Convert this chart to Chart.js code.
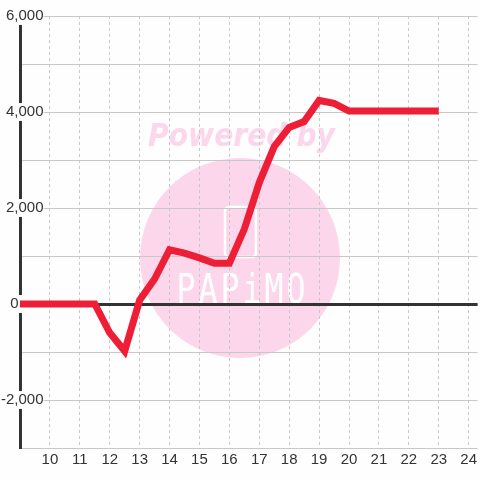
<!DOCTYPE html>
<html>
<head>
<meta charset="utf-8">
<script src="https://cdn.jsdelivr.net/npm/chart.js@4/dist/chart.umd.min.js"></script>
<style>
  body { margin: 0; background: #fdfefd; }
  #wrap { width: 480px; height: 480px; }
</style>
</head>
<body>
<div id="wrap"><canvas id="profitChart"></canvas></div>
<script>
// hour of day (half-hour steps) and the value at each step
const hours = [9, 9.5, 10, 10.5, 11, 11.5, 12, 12.5, 13, 13.5, 14, 14.5, 15, 15.5, 16, 16.5,
               17, 17.5, 18, 18.5, 19, 19.5, 20, 20.5, 21, 21.5, 22, 22.5, 23];
const values = [0, 0, 0, 0, 0, 0, -600, -980, 80, 520, 1130, 1060, 960, 850, 850, 1560,
                2530, 3280, 3680, 3800, 4240, 4180, 4020, 4020, 4020, 4020, 4020, 4020, 4020];
const xRange = [9, 24.3];
const yRange = [-3000, 6000];

// "Powered by" watermark drawn under the grid
const watermark = {
    id: 'watermark',
    beforeDraw: function(chart) {
        const c = chart.ctx;
        c.save();
        c.fillStyle = '#fcd7ec';
        c.beginPath();
        c.arc(240, 258, 100, 0, Math.PI * 2);
        c.fill();

        c.font = 'italic bold 32px "DejaVu Sans"';
        c.textBaseline = 'alphabetic';
        c.textAlign = 'left';
        c.fillText('Powered by', 148, 146, 187);

        c.strokeStyle = '#ffffff';
        c.lineWidth = 2.5;
        c.beginPath();
        c.roundRect(225, 207, 31, 50, 4);
        c.stroke();

        c.fillStyle = '#ffffff';
        c.font = '40px "DejaVu Sans Mono"';
        c.textAlign = 'center';
        const logo = 'PAPiMO';
        for (let i = 0; i < logo.length; i++) {
            c.fillText(logo[i], 186 + 22 * i, 303, 19);
        }
        c.restore();
    }
};

const ctx = document.getElementById('profitChart').getContext('2d');
new Chart(ctx, {
    type: 'line',
    data: {
        datasets: [{
            data: hours.map(function(h, i) { return { x: h, y: values[i] }; }),
            borderColor: '#ee1e36',
            borderWidth: 7,
            pointRadius: 0,
            tension: 0,
            fill: false
        }]
    },
    options: {
        responsive: true,
        maintainAspectRatio: false,
        animation: false,
        layout: { padding: { top: 16, bottom: 8, left: 0, right: 0 } },
        plugins: {
            legend: { display: false },
            tooltip: { enabled: false }
        },
        scales: {
            x: {
                type: 'linear',
                min: xRange[0],
                max: xRange[1],
                grid: {
                    color: '#c8c8c8',
                    drawTicks: false
                },
                border: { display: false, dash: [3, 3] },
                ticks: {
                    stepSize: 1,
                    includeBounds: false,
                    padding: 3,
                    color: '#333',
                    font: { family: '"Liberation Sans", Arial', size: 15 },
                    callback: function(v) { return v === 9 ? '' : v; }
                }
            },
            y: {
                min: yRange[0],
                max: yRange[1],
                afterFit: function(scale) { scale.width = 20; },
                grid: {
                    drawTicks: false,
                    color: function(c) { return c.tick && c.tick.value === 0 ? '#333' : '#c8c8c8'; },
                    lineWidth: function(c) { return c.tick && c.tick.value === 0 ? 3 : 1; }
                },
                border: { color: '#333', width: 3 },
                ticks: {
                    stepSize: 1000,
                    mirror: true,
                    crossAlign: 'far',
                    padding: -19,
                    color: '#333',
                    showLabelBackdrop: true,
                    backdropColor: '#fdfefd',
                    backdropPadding: 0,
                    font: { family: '"Liberation Sans", Arial', size: 15 },
                    callback: function(v) {
                        if (v % 2000 !== 0) return '';
                        return v === 0 ? '0      ' : v.toLocaleString('en-US');
                    }
                }
            }
        }
    },
    plugins: [watermark]
});
</script>
</body>
</html>
